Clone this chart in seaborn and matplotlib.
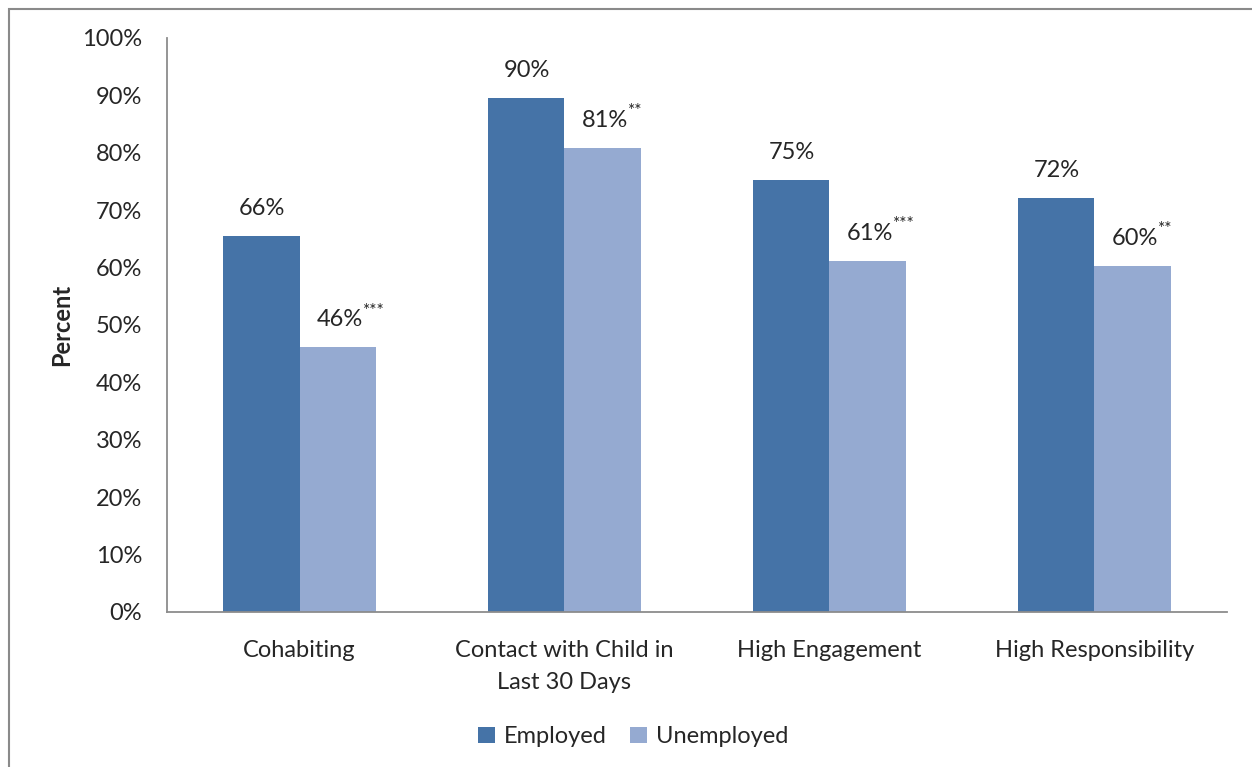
import pandas as pd
import matplotlib.pyplot as plt
import seaborn as sns
from matplotlib.patches import Rectangle

categories = ["Cohabiting", "Contact with Child in\nLast 30 Days", "High Engagement", "High Responsibility"]
employed = [65.5, 89.5, 75.2, 72.1]
unemployed = [46.1, 80.8, 61.1, 60.3]
employed_labels = ["66%", "90%", "75%", "72%"]
unemployed_labels = ["46%", "81%", "61%", "60%"]
stars = ["***", "**", "***", "**"]

df = pd.DataFrame({
    "Category": categories * 2,
    "Percent": employed + unemployed,
    "Status": ["Employed"] * 4 + ["Unemployed"] * 4,
})

sns.set_style("white")
plt.rcParams['font.family'] = ['Lato', 'DejaVu Sans']
fs = 17

fig = plt.figure(figsize=(12.52, 7.67), dpi=100)
ax = fig.add_axes([0.1334, 0.2021, 0.8466, 0.7484])

sns.barplot(data=df, x="Category", y="Percent", hue="Status",
            palette=["#4573A7", "#95AAD1"], width=0.574, saturation=1,
            linewidth=0, ax=ax)

for bars, labels, extra in [(ax.containers[0], employed_labels, None),
                            (ax.containers[1], unemployed_labels, stars)]:
    for i, b in enumerate(bars):
        x = b.get_x() + b.get_width() / 2
        y = b.get_height() + 3.0
        t = ax.text(x + (0.01 if extra else 0), y, labels[i], ha="center", va="bottom", fontsize=fs)
        if extra:
            ax.annotate(extra[i], xy=(1, 0.55), xycoords=t, xytext=(-0.5, 0),
                        textcoords="offset points", ha="left", va="bottom", fontsize=12.5)

ax.set_ylim(0, 100)
ax.set_xlim(-0.5, 3.5)
ax.set_yticks(range(0, 101, 10))
ax.set_yticklabels([f"{v}%" for v in range(0, 101, 10)], fontsize=fs)
ax.tick_params(axis="x", labelsize=fs, length=0, pad=20)
ax.tick_params(axis="y", length=0, pad=18)
for lbl in ax.get_xticklabels():
    lbl.set_linespacing(1.65)
ax.set_xlabel("")
ax.set_ylabel("Percent", fontsize=fs, fontweight="bold", labelpad=6)

for s in ["top", "right"]:
    ax.spines[s].set_visible(False)
for s in ["left", "bottom"]:
    ax.spines[s].set_color("#8c8c8c")
    ax.spines[s].set_linewidth(1.3)

leg = ax.legend(loc="center", bbox_to_anchor=(0.5 - 0.06, -0.217), ncol=2, frameon=False,
                fontsize=fs, handlelength=0.7, handleheight=0.7,
                handletextpad=0.4, columnspacing=1.0)

fig.patches.append(Rectangle((9 / 1252, -0.1), 1.2, 1 - 9 / 767 + 0.1, transform=fig.transFigure,
                             fill=False, edgecolor="#8a8a8a", linewidth=1.5, figure=fig))

fig.savefig("out.png", dpi=100)
